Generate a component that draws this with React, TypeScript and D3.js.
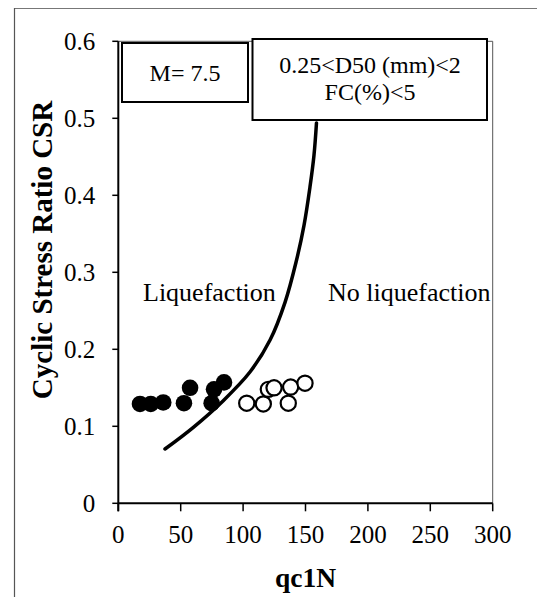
import React from "react";
import * as d3 from "d3";

const liqX = [17.4, 26, 36, 52.6, 57.5, 74.8, 76.7, 84.7];
const liqY = [0.129, 0.129, 0.131, 0.13, 0.15, 0.13, 0.148, 0.157];
const noLiqX = [102.9, 116.2, 120.2, 124.8, 136.2, 138.1, 149.6];
const noLiqY = [0.13, 0.129, 0.148, 0.15, 0.13, 0.151, 0.156];
const curveX = [37.4, 59.9, 83.9, 105.5, 121.6, 133.6, 142.4, 148.8, 153.6, 156.8, 158.8];
const curveY = [0.0705, 0.0984, 0.133, 0.1705, 0.212, 0.261, 0.313, 0.361, 0.411, 0.452, 0.494];
const xTicks = [0, 50, 100, 150, 200, 250, 300];
const yTicks = [0, 0.1, 0.2, 0.3, 0.4, 0.5, 0.6];
const xTitle = "qc1N";
const yTitle = "Cyclic Stress Ratio CSR";
const boxM = "M= 7.5";
const boxD = ["0.25<D50 (mm)<2", "FC(%)<5"];
const labelLiq = "Liquefaction";
const labelNoLiq = "No liquefaction";

const W = 540;
const H = 597;
const FONT = "'Liberation Serif', 'Times New Roman', 'DejaVu Serif', serif";
const txt = { fontFamily: FONT };

export default function App() {
  const x = d3.scaleLinear().domain([0, 300]).range([118.3, 492.7]);
  const y = d3.scaleLinear().domain([0, 0.6]).range([503.3, 41.3]);
  const line = d3
    .line<number>()
    .x((_, i) => x(curveX[i]))
    .y((_, i) => y(curveY[i]))
    .curve(d3.curveCatmullRom.alpha(0.5));
  const path = line(curveX) || "";
  const x0 = x(0), x1 = x(300), y0 = y(0), y1 = y(0.6);

  return (
    <svg
      width={W}
      height={H}
      style={{ position: "absolute", left: 0, top: 0, background: "#fff", fontFamily: FONT }}
    >
      <rect x={0} y={0} width={W} height={H} fill="#fff" />
      {/* outer frame */}
      <line x1={14} y1={8.5} x2={537} y2={8.5} stroke="#777" strokeWidth={1} />
      <line x1={14.5} y1={8} x2={14.5} y2={H} stroke="#555" strokeWidth={1.2} />

      {/* plot border (top/right) */}
      <line x1={x0} y1={y1} x2={x1} y2={y1} stroke="#555" strokeWidth={1} />
      <line x1={x1} y1={y1} x2={x1} y2={y0} stroke="#555" strokeWidth={1} />

      {/* curve */}
      <path d={path} fill="none" stroke="#000" strokeWidth={3.5} strokeLinecap="round" />

      {/* points */}
      {liqX.map((v, i) => (
        <circle key={"l" + i} cx={x(v)} cy={y(liqY[i])} r={8.3} fill="#000" />
      ))}
      {noLiqX.map((v, i) => (
        <circle key={"n" + i} cx={x(v)} cy={y(noLiqY[i])} r={7.6} fill="#fff" stroke="#000" strokeWidth={2.2} />
      ))}

      {/* axes */}
      <line x1={x0} y1={y0} x2={x1} y2={y0} stroke="#000" strokeWidth={2} />
      <line x1={x0} y1={y1} x2={x0} y2={y0 + 8} stroke="#000" strokeWidth={2} />
      {yTicks.map((t) => (
        <g key={"yt" + t}>
          <line x1={x0 - 6} y1={y(t)} x2={x0} y2={y(t)} stroke="#000" strokeWidth={1.5} />
          <text x={x0 - 23} y={y(t)} textAnchor="end" dominantBaseline="central" fontSize={25} style={txt}>
            {t === 0 ? "0" : t.toFixed(1)}
          </text>
        </g>
      ))}
      {xTicks.map((t) => (
        <g key={"xt" + t}>
          <line x1={x(t)} y1={y0} x2={x(t)} y2={y0 + 8} stroke="#000" strokeWidth={1.5} />
          <text x={x(t)} y={y0 + 31} textAnchor="middle" dominantBaseline="central" fontSize={25} style={txt}>
            {t}
          </text>
        </g>
      ))}

      <text x={(x0 + x1) / 2} y={577} textAnchor="middle" dominantBaseline="central" fontSize={27.5} fontWeight="bold" style={txt}>
        {xTitle}
      </text>
      <text
        transform={`translate(42,250) rotate(-90)`}
        textAnchor="middle"
        dominantBaseline="central"
        fontSize={29}
        fontWeight="bold"
        style={txt}
      >
        {yTitle}
      </text>

      {/* boxes */}
      <rect x={122} y={43} width={126} height={59} fill="#fff" stroke="#000" strokeWidth={2} />
      <text x={185} y={73} textAnchor="middle" dominantBaseline="central" fontSize={24} style={txt}>
        {boxM}
      </text>
      <rect x={252.5} y={39} width={234.5} height={81} fill="#fff" stroke="#000" strokeWidth={2} />
      <text x={370} y={65} textAnchor="middle" dominantBaseline="central" fontSize={24} style={txt}>
        {boxD[0]}
      </text>
      <text x={370} y={92} textAnchor="middle" dominantBaseline="central" fontSize={24} style={txt}>
        {boxD[1]}
      </text>

      {/* region labels */}
      <text x={143} y={301} fontSize={26} style={txt}>{labelLiq}</text>
      <text x={328} y={301} fontSize={26} style={txt}>{labelNoLiq}</text>
    </svg>
  );
}
